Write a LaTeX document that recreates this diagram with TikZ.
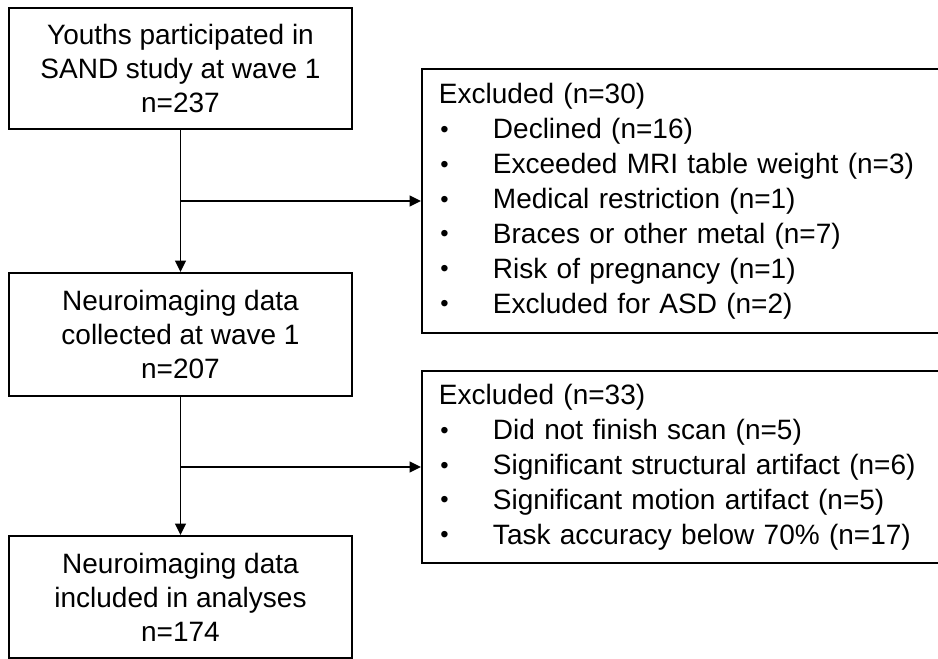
\documentclass[tikz,border=0pt]{standalone}
\usepackage{fontspec}
\setmainfont{Liberation Sans}
\usetikzlibrary{arrows.meta}
\begin{document}
\begin{tikzpicture}[x=0.75pt,y=-0.75pt,
  line width=1.45pt,
  leftbox/.style={draw, rectangle, align=center, minimum width=257pt, inner sep=0pt,
    font=\fontsize{21pt}{25.5pt}\selectfont},
  rightbox/.style={draw, rectangle, align=left, anchor=north west, inner xsep=12.75pt, inner ysep=0pt,
    text width=370pt, font=\fontsize{21pt}{26.2pt}\selectfont},
  arr/.style={-{Triangle[length=8.5pt,width=8pt]}}]
\clip (0,0) rectangle (938,659);
\fill[white] (0,0) rectangle (938,659);
\node[leftbox, minimum height=90.75pt] (b1) at (180.5,68.5) {Youths participated in\\SAND study at wave 1\\n=237};
\node[leftbox, minimum height=92.25pt] (b2) at (180.5,334.5) {Neuroimaging data\\collected at wave 1\\n=207};
\node[leftbox, minimum height=91.5pt] (b3) at (180.5,597) {Neuroimaging data\\included in analyses\\n=174};
\newcommand{\bul}{\makebox[40.5pt][l]{\hspace{1pt}\raisebox{0.9pt}{\scalebox{0.85}{\textbullet}}}}
\node[rightbox, minimum height=198pt] (r1) at (421,68) {Excluded (n=30)\\
\bul Declined (n=16)\\
\bul Exceeded MRI table weight (n=3)\\
\bul Medical restriction (n=1)\\
\bul Braces or other metal (n=7)\\
\bul Risk of pregnancy (n=1)\\
\bul Excluded for ASD (n=2)};
\node[rightbox, minimum height=144pt] (r2) at (421,370) {Excluded (n=33)\\
\bul Did not finish scan (n=5)\\
\bul Significant structural artifact (n=6)\\
\bul Significant motion artifact (n=5)\\
\bul Task accuracy below 70\% (n=17)};
\coordinate (j1) at (b1.south |- r1.west);
\coordinate (j2) at (b2.south |- r2.west);
\draw[arr] (b1.south) -- (b2.north);
\draw[arr] (j1) -- (r1.west);
\draw[arr] (b2.south) -- (b3.north);
\draw[arr] (j2) -- (r2.west);
\end{tikzpicture}
\end{document}
